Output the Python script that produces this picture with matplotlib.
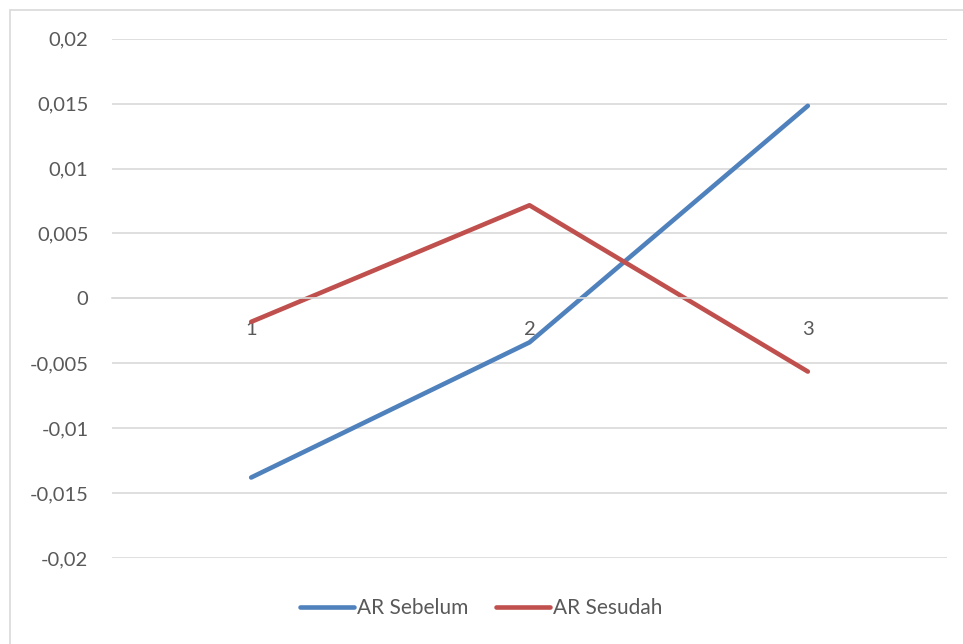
import matplotlib.pyplot as plt
from matplotlib.patches import Rectangle
from matplotlib.ticker import FuncFormatter

categories = ["1", "2", "3"]
ar_sebelum = [-0.0138, -0.00339, 0.01483]
ar_sesudah = [-0.00181, 0.00717, -0.00564]
y_ticks = [-0.02, -0.015, -0.01, -0.005, 0, 0.005, 0.01, 0.015, 0.02]

plt.rcParams['font.family'] = ['Lato', 'DejaVu Sans']

W, H = 963, 644
fig = plt.figure(figsize=(W / 100, H / 100), dpi=100)

# chart border (only left and top visible in the crop)
fig.patches.append(Rectangle((10 / W, -0.1), 1.2, 1 - 10 / H + 0.1, transform=fig.transFigure,
                             fill=False, edgecolor='#D9D9D9', linewidth=1.2))

left, right = 112, 947
top, bottom = 38.7, 558
ax = fig.add_axes([left / W, 1 - bottom / H, (right - left) / W, (bottom - top) / H])

x = list(range(len(categories)))
ax.plot(x, ar_sebelum, color='#4F81BD', linewidth=3.3, solid_capstyle='round',
        solid_joinstyle='round', label='AR Sebelum')
ax.plot(x, ar_sesudah, color='#C0504D', linewidth=3.3, solid_capstyle='round',
        solid_joinstyle='round', label='AR Sesudah')

ax.set_xlim(-0.5, len(categories) - 0.5)
ax.set_ylim(-0.02, 0.02)
ax.set_yticks(y_ticks)


def comma_fmt(v, pos):
    if abs(v) < 1e-12:
        return "0"
    return ('%g' % v).replace('.', ',')


ax.yaxis.set_major_formatter(FuncFormatter(comma_fmt))
ax.set_xticks(x)
ax.set_xticklabels(categories)

for s in ['top', 'right', 'left']:
    ax.spines[s].set_visible(False)
ax.spines['bottom'].set_position(('data', 0))
ax.spines['bottom'].set_color('#D9D9D9')
ax.spines['bottom'].set_linewidth(1.2)

ax.grid(axis='y', color='#D9D9D9', linewidth=1.2)
ax.set_axisbelow(True)
ax.tick_params(axis='both', length=0, labelsize=14.5, labelcolor='#595959')
ax.tick_params(axis='y', pad=17)
ax.tick_params(axis='x', pad=16)

# legend centred a bit left of the plot centre, as in the source
leg = fig.legend(*ax.get_legend_handles_labels(), loc='center',
                 bbox_to_anchor=(481 / W, 1 - 608 / H),
                 ncol=2, frameon=False, fontsize=15, handlelength=2.6, handletextpad=0.15,
                 columnspacing=1.3)
for t in leg.get_texts():
    t.set_color('#595959')

fig.savefig('out.png', dpi=100)
